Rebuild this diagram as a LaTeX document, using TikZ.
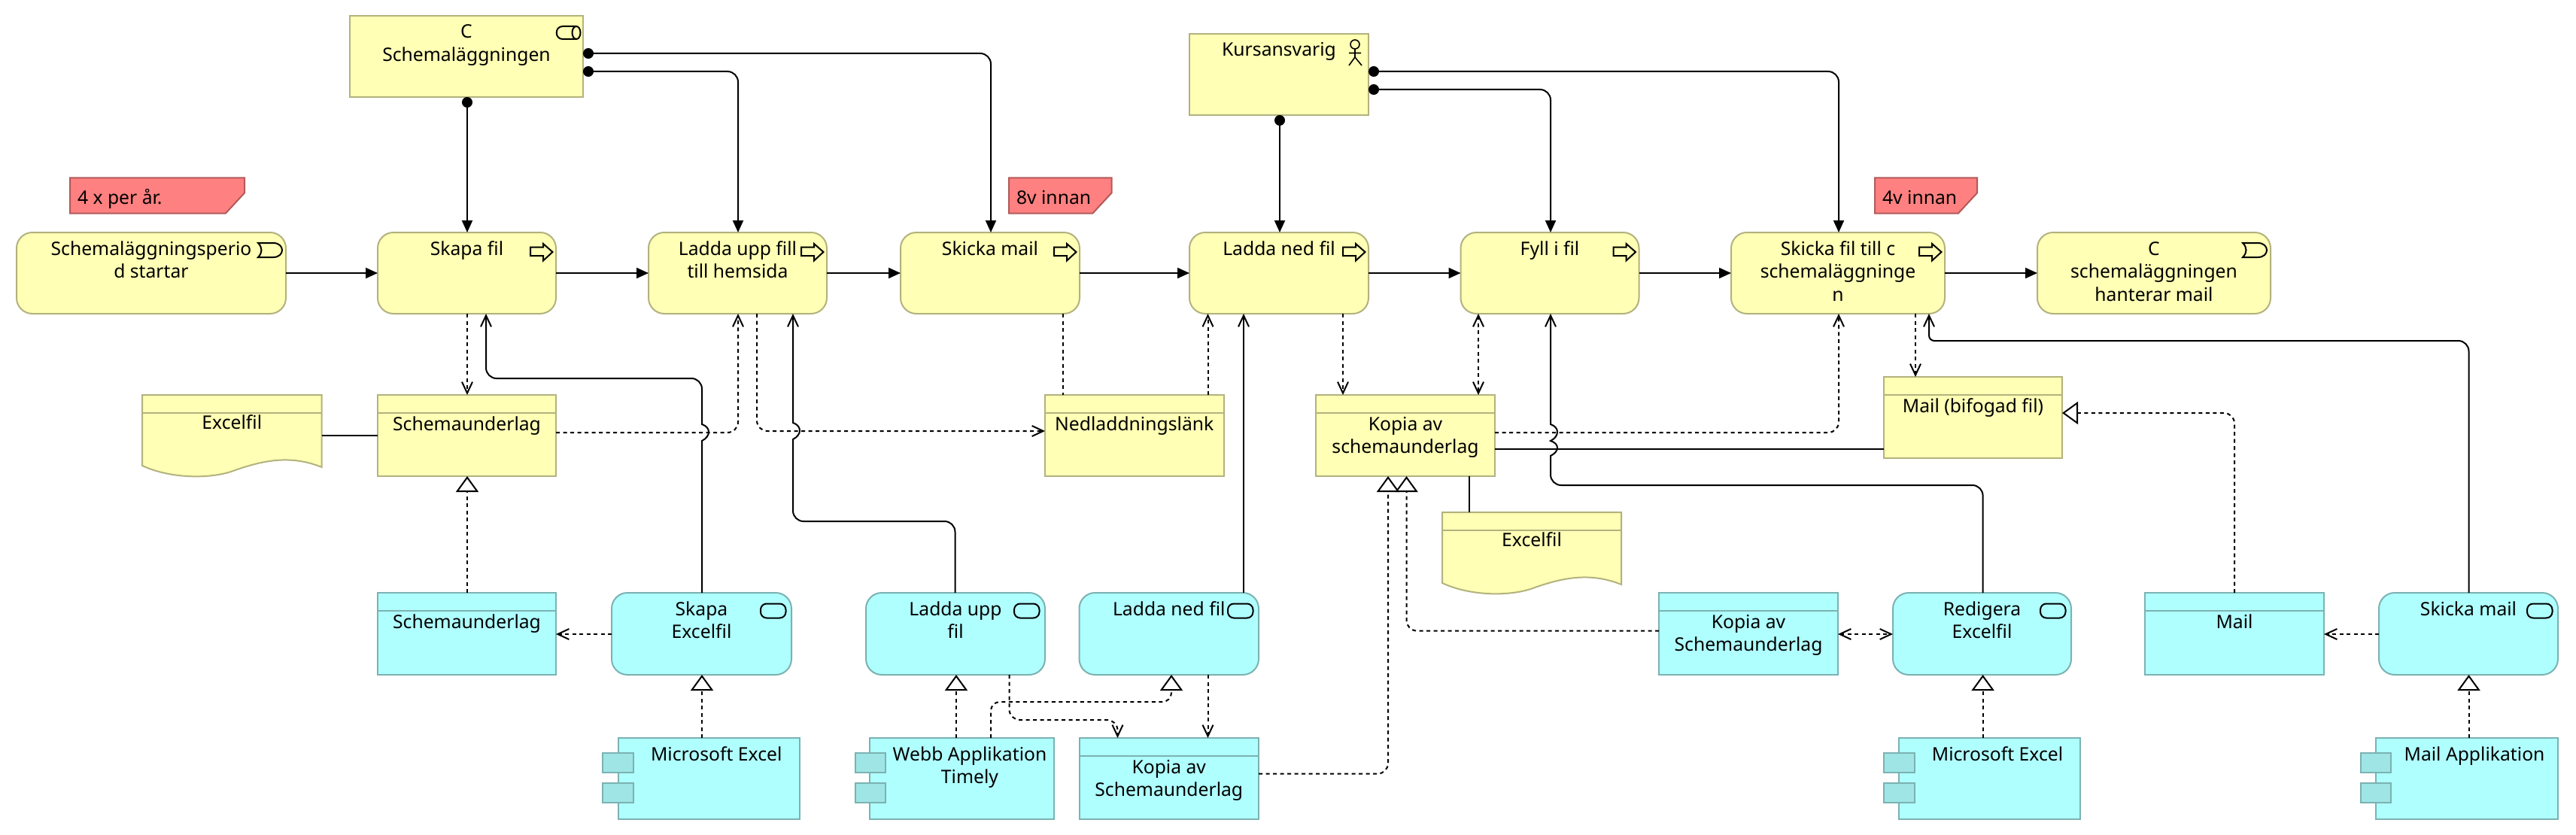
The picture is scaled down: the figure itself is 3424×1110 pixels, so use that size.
\documentclass[tikz,border=0pt]{standalone}
\usepackage{fontspec}
\setmainfont{Noto Sans}
\usetikzlibrary{arrows.meta}
\definecolor{yfill}{HTML}{FFFFB5}
\definecolor{yline}{HTML}{B2B27E}
\definecolor{cfill}{HTML}{B0FFFF}
\definecolor{cline}{HTML}{7BB2B2}
\definecolor{ctab}{HTML}{A0E5E5}
\definecolor{rfill}{HTML}{FF8080}
\definecolor{rline}{HTML}{B25A5A}
\tikzset{
  x=1pt,y=-1pt,
  base/.style={line width=2pt,inner sep=0pt,outer sep=0pt},
  yel/.style={base,draw=yline,fill=yfill},
  cya/.style={base,draw=cline,fill=cfill},
  rnd/.style={rounded corners=21pt},
  ghost/.style={inner sep=0pt,outer sep=0pt},
  lbl/.style={inner sep=0pt,outer sep=0pt,anchor=north,align=center,font=\fontsize{24.7}{30.4}\selectfont},
  lblL/.style={lbl,anchor=north west,align=left},
  icon/.style={line width=2pt,draw=black},
  conn/.style={line width=2pt,draw=black},
  dsh/.style={conn,dash pattern=on 5pt off 4.5pt},
  dot/.style={conn,dash pattern=on 3pt off 3pt},
  chf/.style={rounded corners=14pt},
  fillTip/.tip={Triangle[length=16pt,width=14pt]},
  openTip/.tip={Straight Barb[length=15pt,width=14pt]},
  hollowTip/.tip={Triangle[open,fill=white,length=21pt,width=30pt]},
  dotTip/.tip={Circle[length=14pt]},
}
% name, style, x1,y1,x2,y2, text offset, text
\newcommand{\el}[8]{%
  \pgfmathsetmacro{\cxx}{(#3+#5)/2}%
  \pgfmathsetmacro{\cyy}{(#4+#6)/2}%
  \pgfmathsetmacro{\www}{#5-#3}%
  \pgfmathsetmacro{\hhh}{#6-#4}%
  \pgfmathsetmacro{\tyy}{#4+#7}%
  \node[#2,minimum width=\www pt,minimum height=\hhh pt] (#1) at (\cxx,\cyy) {};
  \node[lbl] (#1-t) at (\cxx,\tyy) {\rule{0pt}{20pt}#8};
}
% data object with header line
\newcommand{\dataobj}[7]{%
  \el{#1}{#2}{#3}{#4}{#5}{#6}{27}{#7}
  \pgfmathsetmacro{\dyy}{#4+24}%
  \draw[base,draw=#2line] (#3,\dyy) -- (#5,\dyy);
}
\colorlet{yelline}{yline}
\colorlet{cyaline}{cline}
% document with wavy bottom
\newcommand{\docu}[6]{%
  \pgfmathsetmacro{\cxx}{(#2+#4)/2}%
  \pgfmathsetmacro{\cyy}{(#3+#5)/2}%
  \pgfmathsetmacro{\www}{#4-#2}%
  \pgfmathsetmacro{\hhh}{#5-#3}%
  \pgfmathsetmacro{\tyy}{#3+25}%
  \node[ghost,minimum width=\www pt,minimum height=\hhh pt] (#1) at (\cxx,\cyy) {};
  \begin{scope}[shift={(#1.north west)}]
    \draw[yel] (0,0) -- (\www,0) -- (\www,96) .. controls (\www-40,80) and (\www-75,86) .. (\www-115,100) .. controls (\www-145,112) and (\www-200,112) .. (0,94) -- cycle;
    \draw[base,draw=yline] (0,24) -- (\www,24);
  \end{scope}
  \node[lbl] (#1-t) at (\cxx,\tyy) {\rule{0pt}{20pt}#6};
}
% component: name, x1,y1,x2,y2, tab x1, tab x2, text
\newcommand{\comp}[8]{%
  \pgfmathsetmacro{\cxx}{(#2+#4)/2}%
  \pgfmathsetmacro{\cyy}{(#3+#5)/2}%
  \pgfmathsetmacro{\www}{#4-#2}%
  \pgfmathsetmacro{\hhh}{#5-#3}%
  \node[cya,minimum width=\www pt,minimum height=\hhh pt] (#1) at (\cxx,\cyy) {};
  \pgfmathsetmacro{\tcx}{(#7+#4)/2}%
  \pgfmathsetmacro{\tyy}{#3+10}%
  \node[lbl] (#1-c) at (\tcx,\tyy) {\rule{0pt}{20pt}#8};
  \pgfmathsetmacro{\aaa}{#3+20}\pgfmathsetmacro{\bbb}{#3+46}%
  \pgfmathsetmacro{\ccc}{#3+60}\pgfmathsetmacro{\ddd}{#3+86}%
  \draw[base,draw=cline,fill=ctab] (#6,\aaa) rectangle (#7,\bbb);
  \draw[base,draw=cline,fill=ctab] (#6,\ccc) rectangle (#7,\ddd);
}
\newcommand{\procicon}[1]{\begin{scope}[shift={(#1.north east)}]
  \draw[icon] (-34,19.5) -- (-17,19.5) -- (-17,15) -- (-4.5,26) -- (-17,37.5) -- (-17,31) -- (-34,31) -- cycle;
\end{scope}}
\newcommand{\evicon}[1]{\begin{scope}[shift={(#1.north east)}]
  \draw[icon] (-37,14) -- (-17,14) .. controls (-1,14) and (-1,33) .. (-17,33) -- (-37,33) .. controls (-31,27) and (-31,20) .. (-37,14) -- cycle;
\end{scope}}
\newcommand{\techicon}[1]{\begin{scope}[shift={(#1.north east)}]
  \draw[icon,rounded corners=8pt] (-41,14.5) rectangle (-7.5,33.5);
\end{scope}}
\newcommand{\roleicon}[1]{\begin{scope}[shift={(#1.north east)}]
  \draw[icon] (-9,14) -- (-27,14) .. controls (-38,14) and (-38,31) .. (-27,31) -- (-9,31);
  \draw[icon] (-9,22.5) ellipse [x radius=5.5,y radius=8.5];
\end{scope}}
\newcommand{\actoricon}[1]{\begin{scope}[shift={(#1.north east)}]
  \draw[icon,line width=1.6pt] (-18,14) circle (6);
  \draw[icon,line width=1.6pt] (-18,20) -- (-18,31) (-26,25.5) -- (-10,25.5) (-26,42) -- (-18,31) -- (-9,42);
\end{scope}}
\newcommand{\note}[6]{%
  \pgfmathsetmacro{\cxx}{(#2+#4)/2}\pgfmathsetmacro{\cyy}{(#3+#5)/2}%
  \pgfmathsetmacro{\www}{#4-#2}\pgfmathsetmacro{\hhh}{#5-#3}%
  \node[ghost,minimum width=\www pt,minimum height=\hhh pt] (#1) at (\cxx,\cyy) {};
  \begin{scope}[shift={(#1.north west)}]
    \draw[base,draw=rline,fill=rfill] (0,0) -- (\www,0) -- (\www,20) -- (\www-25,\hhh) -- (0,\hhh) -- cycle;
  \end{scope}
  \pgfmathsetmacro{\lxx}{#2+10}\pgfmathsetmacro{\tyy}{#3+14.5}%
  \node[lblL] (#1-t) at (\lxx,\tyy) {\rule{0pt}{20pt}#6};
}
\begin{document}
\begin{tikzpicture}
\useasboundingbox (0,0) rectangle (3424,1110);
\fill[white] (0,0) rectangle (3424,1110);
% notes
\note{n1}{93}{236.5}{325}{283.5}{4 x per år.}
\note{n2}{1341}{236.5}{1477.5}{283.5}{8v innan}
\note{n3}{2492}{236.5}{2628}{283.5}{4v innan}
% actors
\el{cs}{yel}{465}{21}{775}{129}{10}{C\\Schemaläggningen}
\roleicon{cs}
\el{ka}{yel}{1581}{45}{1819}{153}{10}{Kursansvarig}
\actoricon{ka}
% process row
\el{start}{yel,rnd}{22}{309}{380}{417}{10.5}{Schemaläggningsperio\\d startar}
\evicon{start}
\el{skapa}{yel,rnd}{502}{309}{739}{417}{10.5}{Skapa fil}
\procicon{skapa}
\el{upp}{yel,rnd}{862}{309}{1099}{417}{10.5}{Ladda upp fill\\till hemsida}
\procicon{upp}
\el{mail}{yel,rnd}{1197}{309}{1435}{417}{10.5}{Skicka mail}
\procicon{mail}
\el{ned}{yel,rnd}{1581}{309}{1819}{417}{10.5}{Ladda ned fil}
\procicon{ned}
\el{fyll}{yel,rnd}{1941.5}{309}{2178.5}{417}{10.5}{Fyll i fil}
\procicon{fyll}
\el{skf}{yel,rnd}{2301}{309}{2585}{417}{10.5}{Skicka fil till c\\schemaläggninge\\n}
\procicon{skf}
\el{chm}{yel,rnd}{2708}{309}{3018}{417}{10.5}{C\\schemaläggningen\\hanterar mail}
\evicon{chm}
% business objects
\docu{ex1}{189}{525}{427.6}{633}{Excelfil}
\dataobj{su}{yel}{502}{525}{739}{633}{Schemaunderlag}
\dataobj{nl}{yel}{1389}{525}{1626.5}{633}{Nedladdningslänk}
\dataobj{ko}{yel}{1749}{525}{1987}{633}{Kopia av\\schemaunderlag}
\dataobj{mb}{yel}{2504}{501}{2741}{609}{Mail (bifogad fil)}
\docu{ex2}{1917}{681}{2155}{789}{Excelfil}
% technology row
\dataobj{tsu}{cya}{502}{788}{739}{897}{Schemaunderlag}
\el{tse}{cya,rnd}{813}{788}{1052}{897}{10.5}{Skapa\\Excelfil}
\techicon{tse}
\el{tup}{cya,rnd}{1151}{788}{1389}{897}{10.5}{Ladda upp\\fil}
\techicon{tup}
\el{tne}{cya,rnd}{1434.5}{788}{1673}{897}{10.5}{Ladda ned fil}
\techicon{tne}
\dataobj{tko}{cya}{2205}{788}{2443}{897}{Kopia av\\Schemaunderlag}
\el{tre}{cya,rnd}{2516}{788}{2753}{897}{10.5}{Redigera\\Excelfil}
\techicon{tre}
\dataobj{tma}{cya}{2851}{788}{3089}{897}{Mail}
\el{tsm}{cya,rnd}{3162}{788}{3400}{897}{10.5}{Skicka mail}
\techicon{tsm}
% components
\comp{ce1}{822}{981}{1063}{1089}{801}{841.5}{Microsoft Excel}
\comp{web}{1156}{981}{1401}{1089}{1137}{1177}{Webb Applikation\\Timely}
\dataobj{tk2}{cya}{1434.5}{981}{1673}{1089}{Kopia av\\Schemaunderlag}
\comp{ce2}{2524}{981}{2765}{1089}{2504}{2545}{Microsoft Excel}
\comp{cma}{3158}{981}{3400}{1089}{3138}{3178}{Mail Applikation}
% triggering
\draw[conn,-fillTip] (start.east |- 0,363) -- (skapa.west |- 0,363);
\draw[conn,-fillTip] (skapa.east |- 0,363) -- (upp.west |- 0,363);
\draw[conn,-fillTip] (upp.east |- 0,363) -- (mail.west |- 0,363);
\draw[conn,-fillTip] (mail.east |- 0,363) -- (ned.west |- 0,363);
\draw[conn,-fillTip] (ned.east |- 0,363) -- (fyll.west |- 0,363);
\draw[conn,-fillTip] (fyll.east |- 0,363) -- (skf.west |- 0,363);
\draw[conn,-fillTip] (skf.east |- 0,363) -- (chm.west |- 0,363);
% assignment
\draw[conn,dotTip-fillTip] (cs.south -| 621,0) -- (skapa.north -| 621,0);
\draw[conn,dotTip-fillTip,chf] (cs.east |- 0,71) -- (1317,71) -- (mail.north -| 1317,0);
\draw[conn,dotTip-fillTip,chf] (cs.east |- 0,95) -- (981,95) -- (upp.north -| 981,0);
\draw[conn,dotTip-fillTip] (ka.south -| 1701,0) -- (ned.north -| 1701,0);
\draw[conn,dotTip-fillTip,chf] (ka.east |- 0,95) -- (2444,95) -- (skf.north -| 2444,0);
\draw[conn,dotTip-fillTip,chf] (ka.east |- 0,119) -- (2061,119) -- (fyll.north -| 2061,0);
% access (dashed) near top
\draw[dsh,-openTip] (skapa.south -| 621,0) -- (su.north -| 621,0);
\draw[dsh,-openTip,chf] (su.east |- 0,575) -- (981,575) -- (upp.south -| 981,0);
\draw[dsh,-openTip,chf] (upp.south -| 1006,0) -- (1006,573) -- (nl.west |- 0,573);
\draw[dsh] (mail.south -| 1413,0) -- (nl.north -| 1413,0);
\draw[dsh,-openTip] (nl.north -| 1605.5,0) -- (ned.south -| 1605.5,0);
\draw[dsh,-openTip] (ned.south -| 1785,0) -- (ko.north -| 1785,0);
\draw[dsh,openTip-openTip] (fyll.south -| 1965,0) -- (ko.north -| 1965,0);
\draw[dsh,-openTip,chf] (ko.east |- 0,575) -- (2444,575) -- (skf.south -| 2444,0);
\draw[dsh,-openTip] (skf.south -| 2546,0) -- (mb.north -| 2546,0);
% realisation
\draw[dsh,-hollowTip] (tsu.north -| 621,0) -- (su.south -| 621,0);
\draw[dsh,-hollowTip] (ce1.north -| 933,0) -- (tse.south -| 933,0);
\draw[dsh,-hollowTip] (web.north -| 1271,0) -- (tup.south -| 1271,0);
\draw[dsh,-hollowTip,rounded corners=12pt] (web.north -| 1317,0) -- (1317,933) -- (1557,933) -- (tne.south -| 1557,0);
\draw[dsh,-hollowTip] (ce2.north -| 2635.6,0) -- (tre.south -| 2635.6,0);
\draw[dsh,-hollowTip] (cma.north -| 3281.5,0) -- (tsm.south -| 3281.5,0);
\draw[dsh,-hollowTip,chf] (tk2.east |- 0,1028.6) -- (1845,1028.6) -- (ko.south -| 1845,0);
\draw[dsh,-hollowTip,chf] (tko.west |- 0,838.6) -- (1869.5,838.6) -- (ko.south -| 1869.5,0);
\draw[dsh,-hollowTip,chf] (tma.north -| 2970,0) -- (2970,549) -- (mb.east |- 0,549);
% access (tech)
\draw[dsh,-openTip] (tse.west |- 0,843) -- (tsu.east |- 0,843);
\draw[dsh,openTip-openTip] (tko.east |- 0,843) -- (tre.west |- 0,843);
\draw[dsh,-openTip] (tsm.west |- 0,843) -- (tma.east |- 0,843);
\draw[dsh,-openTip,chf] (tup.south -| 1341.5,0) -- (1341.5,957) -- (1485.5,957) -- (tk2.north -| 1485.5,0);
\draw[dsh,-openTip] (tne.south -| 1605.5,0) -- (tk2.north -| 1605.5,0);
% serving (solid open)
\draw[conn,-openTip] (tse.north -| 933,0) [sharp corners] -- (933,586) .. controls (945,580) and (945,568) .. (933,564) [chf] -- (933,503) -- (646,503) -- (skapa.south -| 646,0);
\draw[conn,-openTip] (tup.north -| 1269.5,0) [chf] -- (1269.5,693) -- (1054,693) [sharp corners] -- (1054,584) .. controls (1066,578) and (1066,566) .. (1054,562) -- (upp.south -| 1054,0);
\draw[conn,-openTip] (tne.north -| 1653,0) -- (ned.south -| 1653,0);
\draw[conn,-openTip] (tre.north -| 2635.6,0) [chf] -- (2635.6,645) -- (2061,645) [sharp corners] -- (2061,606) .. controls (2073,600) and (2073,590) .. (2061,586) .. controls (2073,580) and (2073,568) .. (2061,564) -- (fyll.south -| 2061,0);
\draw[conn,-openTip] (tsm.north -| 3281.5,0) [chf] -- (3281.5,453) [rounded corners=7pt] -- (2564,453) -- (skf.south -| 2564,0);
% association
\draw[conn] (ex1.east |- 0,578.5) -- (su.west |- 0,578.5);
\draw[conn] (ko.east |- 0,597) -- (mb.west |- 0,597);
\draw[conn] (ko.south -| 1953,0) -- (ex2.north -| 1953,0);
\end{tikzpicture}
\end{document}
